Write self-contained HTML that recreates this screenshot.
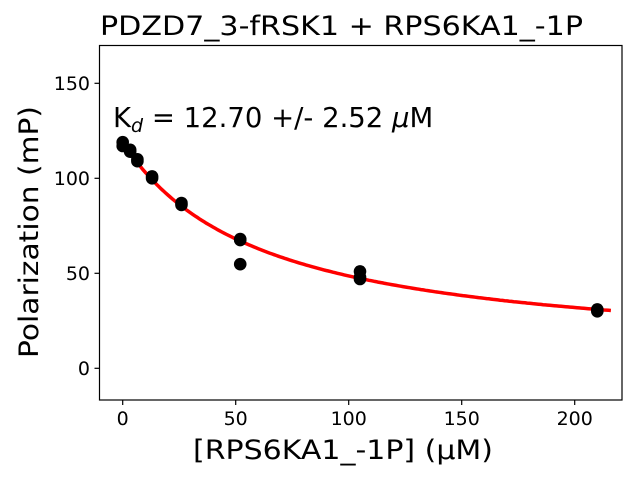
<!DOCTYPE html>
<html><head><style>body{margin:0;background:#fff}svg{display:block}text{font-family:"DejaVu Sans","Liberation Sans",sans-serif;fill:#000}</style></head>
<body>
<svg width="640" height="480" viewBox="0 0 640 480" xmlns="http://www.w3.org/2000/svg">
<rect width="640" height="480" fill="#fff"/>
<text x="100" y="35" font-size="27" textLength="483" lengthAdjust="spacingAndGlyphs">PDZD7_3-fRSK1 + RPS6KA1_-1P</text>
<g id="curve"></g>
<g id="pts"></g>
<rect x="99.5" y="45.5" width="522.5" height="354.5" fill="none" stroke="#000" stroke-width="1.2"/>
<g stroke="#000" stroke-width="1.2">
<line x1="122.7" y1="400" x2="122.7" y2="405"/><line x1="235.7" y1="400" x2="235.7" y2="405"/><line x1="348.7" y1="400" x2="348.7" y2="405"/><line x1="461.7" y1="400" x2="461.7" y2="405"/><line x1="574.7" y1="400" x2="574.7" y2="405"/>
<line x1="94.5" y1="368.3" x2="99.5" y2="368.3"/><line x1="94.5" y1="273.3" x2="99.5" y2="273.3"/><line x1="94.5" y1="178.3" x2="99.5" y2="178.3"/><line x1="94.5" y1="83.3" x2="99.5" y2="83.3"/>
</g>
<g font-size="19" text-anchor="middle">
<text x="122.7" y="425">0</text><text x="235.7" y="425">50</text><text x="348.7" y="425">100</text><text x="461.7" y="425">150</text><text x="574.7" y="425">200</text>
</g>
<g font-size="19" text-anchor="end">
<text x="90" y="375">0</text><text x="90" y="280">50</text><text x="90" y="185">100</text><text x="90" y="90">150</text>
</g>
<text x="343" y="459" font-size="27" text-anchor="middle" textLength="300" lengthAdjust="spacingAndGlyphs">[RPS6KA1_-1P] (μM)</text>
<text transform="translate(38,232) rotate(-90)" font-size="27" text-anchor="middle" textLength="252" lengthAdjust="spacingAndGlyphs">Polarization (mP)</text>
<text x="113" y="127" font-size="27.5">K<tspan font-size="19" font-style="italic" dy="5">d</tspan><tspan dy="-5"> = 12.70 +/- 2.52 </tspan><tspan font-style="italic">μ</tspan>M</text>
</svg>
<script>
var ns="http://www.w3.org/2000/svg";
function X(v){return 122.7+2.26*v}function Y(v){return 368.3-1.9*v}
var d="";for(var x=0;x<=216;x+=1){var p=5+114/(1+x/62);d+=(x?"L":"M")+X(x).toFixed(1)+" "+Y(p).toFixed(1)}
var pa=document.createElementNS(ns,"path");pa.setAttribute("d",d);pa.setAttribute("fill","none");pa.setAttribute("stroke","#ff0000");pa.setAttribute("stroke-width","3.5");document.getElementById("curve").appendChild(pa);
var pts=[[0,119],[0,117],[3.3,115],[3.3,114],[6.5,109],[6.5,110],[13,101],[13,100],[26,87],[26,86],[52,68],[52,67.5],[52,54.8],[105,51],[105,48],[105,47],[210,31],[210,30]];
pts.forEach(function(q){var c=document.createElementNS(ns,"circle");c.setAttribute("cx",X(q[0]));c.setAttribute("cy",Y(q[1]));c.setAttribute("r","6.3");c.setAttribute("fill","#000");document.getElementById("pts").appendChild(c)});
</script>
</body></html>
